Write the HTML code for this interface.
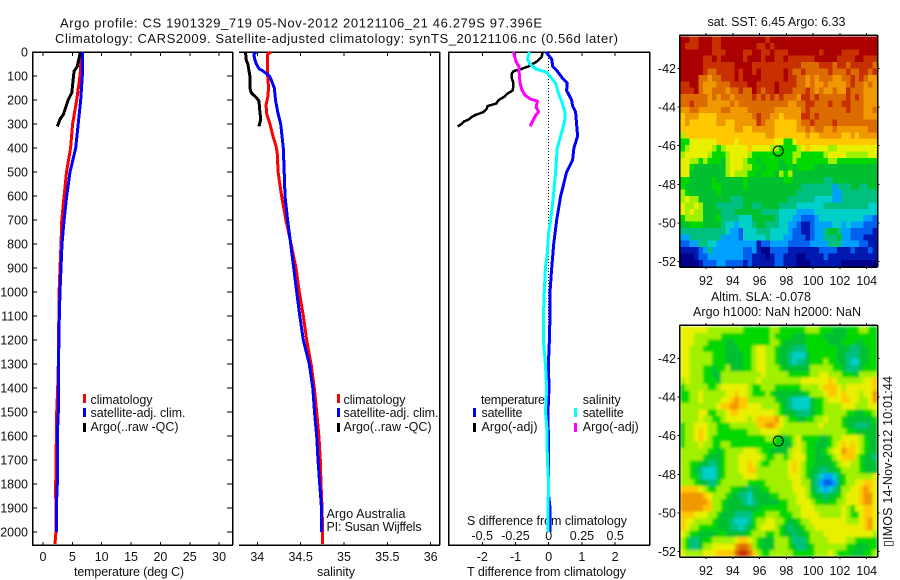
<!DOCTYPE html>
<html lang="en">
<head>
<meta charset="utf-8">
<title>Argo profile</title>
<style>
html,body{margin:0;padding:0;background:#fff;width:900px;height:580px;overflow:hidden}
svg{display:block}
text{font-family:"Liberation Sans",sans-serif;font-size:12.5px;fill:#111}
text.fig-title{font-size:13px}
</style>
</head>
<body>
<svg id="figure" width="900" height="580" viewBox="0 0 900 580" xmlns="http://www.w3.org/2000/svg">
<defs>
<filter id="sla-smooth" filterUnits="userSpaceOnUse" x="680" y="326" width="198" height="231">
<feGaussianBlur stdDeviation="1.3" edgeMode="duplicate"/>
</filter>
</defs>
<rect width="900" height="580" fill="#fff"/>
<text class="fig-title" x="60" y="27.5" textLength="482" lengthAdjust="spacing">Argo profile: CS 1901329_719 05-Nov-2012 20121106_21 46.279S 97.396E</text>
<text class="fig-title" x="55" y="43" textLength="563" lengthAdjust="spacing">Climatology: CARS2009. Satellite-adjusted climatology: synTS_20121106.nc (0.56d later)</text>
<text x="74" y="576" textLength="110" lengthAdjust="spacing">temperature (deg C)</text>
<text x="317" y="576" textLength="38" lengthAdjust="spacing">salinity</text>
<text x="467" y="576" textLength="159" lengthAdjust="spacing">T difference from climatology</text>
<text x="467" y="525" textLength="160" lengthAdjust="spacing">S difference from climatology</text>

<g>
<rect x="83" y="394" width="3" height="9" fill="#f00"/>
<text x="90.5" y="404" textLength="62" lengthAdjust="spacing">climatology</text>
<rect x="83" y="408" width="3" height="9" fill="#00f"/>
<text x="90.5" y="417" textLength="95" lengthAdjust="spacing">satellite-adj. clim.</text>
<rect x="83" y="423" width="3" height="9" fill="#000"/>
<text x="90.5" y="431" textLength="88" lengthAdjust="spacing">Argo(..raw -QC)</text>
</g>
<g>
<rect x="337" y="394" width="3" height="9" fill="#f00"/>
<text x="343.5" y="404" textLength="62" lengthAdjust="spacing">climatology</text>
<rect x="337" y="408" width="3" height="9" fill="#00f"/>
<text x="343.5" y="417" textLength="95" lengthAdjust="spacing">satellite-adj. clim.</text>
<rect x="337" y="423" width="3" height="9" fill="#000"/>
<text x="343.5" y="431" textLength="88" lengthAdjust="spacing">Argo(..raw -QC)</text>
<text x="326.5" y="518" textLength="79" lengthAdjust="spacing">Argo Australia</text>
<text x="326.5" y="531" textLength="95" lengthAdjust="spacing">PI: Susan Wijffels</text>
</g>
<g>
<text x="481" y="404" textLength="64" lengthAdjust="spacing">temperature</text>
<rect x="473" y="408" width="3" height="9" fill="#00f"/>
<text x="481.5" y="417" textLength="41" lengthAdjust="spacing">satellite</text>
<rect x="473" y="423" width="3" height="9" fill="#000"/>
<text x="481.5" y="431" textLength="56" lengthAdjust="spacing">Argo(-adj)</text>
<text x="582.7" y="404" textLength="38" lengthAdjust="spacing">salinity</text>
<rect x="574" y="408" width="3" height="9" fill="#0ff"/>
<text x="582.7" y="417" textLength="41" lengthAdjust="spacing">satellite</text>
<rect x="574" y="423" width="3" height="9" fill="#f0f"/>
<text x="582.7" y="431" textLength="56" lengthAdjust="spacing">Argo(-adj)</text>
</g>

<text x="707.5" y="26" textLength="138" lengthAdjust="spacing">sat. SST: 6.45 Argo: 6.33</text>
<text x="711" y="301" textLength="100" lengthAdjust="spacing">Altim. SLA: -0.078</text>
<text x="693" y="316" textLength="168" lengthAdjust="spacing">Argo h1000: NaN h2000: NaN</text>
<text transform="translate(892,547) rotate(-90)" textLength="171" lengthAdjust="spacing">▯IMOS 14-Nov-2012 10:01:44</text>
</svg>

<script>
// ---- profile data (depth in m, temperature deg C, salinity, differences) ----
const depthTicks = [0,100,200,300,400,500,600,700,800,900,1000,1100,1200,1300,1400,1500,1600,1700,1800,1900,2000];
const tempTicks = [0,5,10,15,20,25,30];
const salTicks = [34,34.5,35,35.5,36];
const tDiffTicks = [-2,-1,0,1,2];
const sDiffTicks = [-0.5,-0.25,0,0.25,0.5];
const sDiffTickLabels = ['-0.5','-0.25','0','0.25','0.5'];

const climDepths = [0,100,200,300,400,500,600,700,800,900,1000,1100,1150,1300,1400,1500,1800,2000,2050];
const climTemp = [6.6,6.3,5.74,5.05,4.7,4.0,3.6,3.2,3.07,2.9,2.75,2.72,2.64,2.6,2.5,2.33,2.16,2.2,2.05];

const satDepths = [0,100,200,300,400,500,600,700,800,900,1000,1100,1200,1300,1400,1500,1600,1800,1900,2000];
const satTemp = [6.7,6.7,6.42,6.0,5.57,4.6,4.03,3.6,3.24,3.07,2.9,2.78,2.72,2.6,2.6,2.6,2.44,2.44,2.27,2.27];

const argoTempDepths = [0,30,60,80,100,150,170,200,230,260,280,300,310];
const argoTemp = [6.36,6.1,5.85,5.3,5.2,5.0,4.9,4.3,3.86,3.47,2.9,2.6,2.44];

const climSalDepths = [0,10,100,150,190,220,260,300,350,390,420,500,600,700,800,900,1000,1100,1200,1300,1400,1500,1600,1700,1800,1900,2000,2050];
const climSal = [34.154,34.12,34.12,34.13,34.12,34.10,34.11,34.146,34.18,34.215,34.23,34.24,34.28,34.33,34.39,34.446,34.484,34.53,34.57,34.62,34.657,34.685,34.71,34.727,34.735,34.746,34.754,34.754];

const satSalDepths = [0,10,30,50,70,80,100,120,150,200,250,300,350,400,500,600,700,800,900,1000,1100,1200,1300,1400,1500,1600,1700,1800,1900,2000];
const satSal = [33.99,33.96,33.97,33.99,34.02,34.07,34.14,34.165,34.196,34.21,34.235,34.27,34.285,34.3,34.31,34.32,34.35,34.385,34.42,34.454,34.49,34.53,34.6,34.64,34.66,34.685,34.70,34.72,34.74,34.74];

const argoSalDepths = [0,30,50,100,150,170,190,205,250,280,310];
const argoSal = [33.865,33.87,33.89,33.915,33.915,33.93,33.99,34.02,34.03,34.04,34.02];

const tDiffDepths = [0,30,60,80,110,130,160,200,225,250,300,350,400,450,500,600,700,800,900,1000,1100,1200,1300,1400,1500,1700,1850,1900,2000];
const tDiffSat = [-0.08,0.09,0.12,0.26,0.42,0.56,0.54,0.69,0.72,0.81,0.84,0.87,0.76,0.72,0.54,0.36,0.24,0.15,0.09,0.04,0.04,0.02,-0.01,0.01,-0.02,0.0,0.0,0.04,0.04];

const sDiffDepths = [0,30,50,70,85,110,130,170,210,250,280,320,360,400,500,600,700,750,850,900,1000,1100,1200,1300,1400,1500,1550,1700,1800,1900,2000];
const sDiffSat = [-0.145,-0.16,-0.14,-0.10,-0.015,0.022,0.052,0.072,0.10,0.122,0.122,0.105,0.085,0.065,0.052,0.035,0.015,0.0,-0.012,-0.025,-0.033,-0.04,-0.04,-0.025,-0.015,-0.025,-0.015,-0.01,0.0,-0.006,-0.006];

const tDiffArgoDepths = [0,20,40,60,70,80,90,110,130,160,175,185,200,215,225,235,250,262,270,282,290,300,310];
const tDiffArgo = [-0.18,-0.21,-0.36,-0.61,-0.81,-1.06,-1.11,-1.11,-1.06,-1.08,-1.26,-1.32,-1.51,-1.58,-1.84,-1.86,-1.96,-2.2,-2.31,-2.42,-2.56,-2.62,-2.74];

const sDiffArgoDepths = [0,20,40,60,100,130,160,180,195,205,230,250,265,310];
const sDiffArgo = [-0.265,-0.255,-0.245,-0.225,-0.22,-0.215,-0.2,-0.178,-0.14,-0.085,-0.095,-0.075,-0.10,-0.14];

// ---- map data: colour level (0 = coldest/lowest, 14 = warmest/highest) per cell, rows north to south ----
const mapLonTicks = [92,94,96,98,100,102,104];
const mapLatTicks = [-42,-44,-46,-48,-50,-52];
const sstLevels = [
[14,14,13,13, 14,14,14,13, 13,14,14,14, 14,14,14,14, 14,14,14,13, 14,14,14,14, 14,14,14,14, 14,14,14,14, 14,14,14,14, 14,14,14,14, 14,14,14,14],
[14,13,13,13, 14,14,14,13, 13,14,14,14, 14,14,14,14, 14,13,13,14, 13,14,14,14, 14,14,14,14, 14,14,14,14, 14,14,14,14, 14,14,14,14, 14,14,14,14],
[14,14,14,14, 14,14,14,13, 13,13,14,14, 14,14,13,13, 14,14,13,13, 14,13,13,13, 14,14,14,14, 14,14,14,13, 14,14,14,14, 13,13,13,13, 14,14,14,14],
[14,14,14,14, 14,13,13,14, 13,14,14,14, 14,14,13,14, 14,14,13,14, 14,13,13,14, 13,13,13,13, 13,13,14,14, 14,14,14,13, 13,13,13,14, 14,13,13,13],
[14,14,14,14, 14,13,13,13, 13,13,13,13, 14,14,14,14, 13,13,13,13, 13,13,13,13, 13,13,13,12, 12,12,12,13, 13,13,12,13, 13,12,13,13, 13,13,13,12],
[14,14,14,14, 14,13,12,12, 13,13,13,13, 14,13,14,14, 13,14,13,13, 13,13,13,14, 13,12,12,13, 12,12,12,12, 12,13,12,12, 12,13,12,12, 13,13,12,13],
[14,14,14,14, 12,12,11,12, 12,13,13,13, 14,13,14,14, 14,14,13,13, 13,13,13,14, 13,13,12,12, 11,12,11,12, 12,12,11,11, 12,12,13,12, 13,12,11,11],
[13,13,14,14, 12,11,11,11, 12,12,12,13, 13,13,13,14, 14,13,13,13, 13,14,13,13, 13,13,12,12, 11,12,11,11, 12,11,11,11, 11,12,13,12, 12,11,12,11],
[13,13,13,14, 12,11,11,12, 12,12,11,12, 12,13,12,12, 14,13,12,13, 13,14,13,13, 13,12,12,12, 13,12,11,12, 11,11,12,11, 11,13,12,12, 12,11,11,11],
[12,12,12,12, 12,12,11,12, 11,12,12,11, 12,12,12,12, 13,12,13,12, 13,12,13,12, 12,12,11,13, 13,12,13,12, 12,12,12,12, 12,13,12,13, 12,11,11,11],
[12,12,13,12, 12,12,11,11, 11,11,11,12, 11,12,12,12, 12,12,12,12, 12,12,12,12, 11,11,12,12, 13,13,12,12, 12,13,12,12, 13,13,12,12, 12,11,11,11],
[11,11,12,12, 11,11,11,11, 11,12,12,11, 11,11,11,12, 12,12,12,12, 12,11,11,11, 11,11,11,12, 13,12,12,12, 12,12,12,12, 12,13,12,12, 12,11,11,12],
[10,11,11,11, 10,10,10,10, 11,11,11,11, 11,11,11,11, 12,13,12,12, 11,11,10,11, 11,11,11,13, 13,12,13,12, 12,12,12,12, 12,12,12,12, 12,11,11,11],
[10,11,10,10, 10,10,10,10, 11,11,10,10, 11,11,11,11, 11,13,12,11, 11,10,10,10, 10,10,11,12, 12,13,12,12, 12,12,13,12, 12,12,12,12, 12,12,12,12],
[10,10,10,10, 10,10,10,10, 10,10,10,10, 11,11,10,10, 11,11,11,11, 11,10,10,10, 10,10,11,11, 12,11,12,12, 11,11,12,11, 11,11,11,11, 11,11,12,12],
[8,10,10,10, 10,10,10,10, 10,10,10,10, 10,10,10,10, 10,10,10,11, 11,10,10,10, 10,10,10,10, 11,10,10,11, 11,11,11,11, 10,10,11,10, 11,11,11,11],
[7,7,9,9, 9,9,9,9, 10,10,10,10, 9,10,10,10, 10,10,10,10, 10,9,9,7, 7,9,10,10, 10,10,10,10, 10,10,10,10, 10,10,10,10, 10,10,10,10],
[7,8,9,9, 9,9,9,8, 7,8,9,9, 9,9,9,10, 9,9,9,9, 8,8,7,7, 7,7,8,9, 10,9,9,9, 9,8,8,9, 9,9,9,9, 9,9,9,9],
[8,9,9,9, 9,9,8,7, 7,7,8,9, 9,9,9,8, 7,7,7,7, 7,7,7,7, 7,8,8,7, 7,7,7,7, 8,9,9,9, 9,8,8,8, 8,8,9,9],
[9,9,8,8, 7,8,7,7, 7,6,8,9, 9,9,8,7, 7,6,7,7, 7,7,6,7, 7,8,7,7, 7,7,7,7, 7,8,8,7, 7,7,7,7, 7,7,7,7],
[9,9,7,6, 6,6,6,6, 6,6,8,9, 9,9,8,8, 7,7,6,7, 7,7,6,6, 7,6,7,7, 7,7,6,6, 6,6,6,6, 6,6,6,6, 6,6,6,6],
[9,9,6,6, 6,6,6,6, 6,6,8,9, 8,8,8,7, 7,6,7,7, 7,6,8,7, 8,6,6,6, 6,6,6,6, 6,6,6,6, 6,6,6,6, 6,6,6,6],
[7,7,6,6, 6,6,6,7, 6,6,6,6, 6,6,7,6, 6,6,6,6, 6,6,6,7, 7,6,6,6, 6,6,6,6, 5,5,6,6, 6,6,6,6, 6,6,6,6],
[7,6,6,6, 6,6,6,7, 7,6,6,6, 6,6,7,6, 6,6,6,6, 6,6,6,6, 6,6,6,5, 5,5,5,5, 5,5,3,5, 5,5,6,6, 5,5,6,6],
[8,7,6,6, 6,6,6,6, 7,6,6,6, 6,6,6,6, 6,6,6,6, 6,6,6,6, 6,6,5,5, 5,5,5,5, 5,5,3,3, 5,5,5,5, 5,5,5,5],
[8,9,8,8, 6,6,6,6, 6,6,6,5, 5,5,6,6, 6,6,6,6, 6,6,6,6, 5,5,5,5, 5,5,4,4, 4,4,3,3, 5,5,5,5, 5,5,5,5],
[9,8,8,9, 8,6,6,6, 5,5,5,5, 5,5,6,6, 5,5,6,6, 6,6,5,5, 5,5,4,4, 4,4,4,4, 5,5,5,5, 5,5,5,5, 5,5,4,4],
[9,8,9,8, 8,6,6,6, 6,5,5,5, 6,6,6,6, 6,6,5,5, 5,5,4,4, 4,4,3,3, 3,3,4,4, 4,4,4,4, 4,4,4,4, 4,4,4,4],
[7,8,8,8, 8,6,6,6, 7,5,5,5, 5,4,4,4, 6,6,6,6, 6,5,4,4, 4,3,3,2, 2,2,3,4, 4,4,4,4, 4,4,4,4, 4,3,3,2],
[6,6,7,7, 7,6,6,6, 6,5,4,4, 3,4,4,4, 5,6,6,5, 5,5,4,4, 3,3,2,1, 1,2,3,3, 3,3,4,4, 3,4,3,3, 3,2,2,2],
[5,5,5,5, 5,5,5,5, 5,5,4,3, 3,2,4,4, 4,5,5,5, 4,4,4,4, 3,2,2,1, 1,2,3,3, 5,6,6,5, 3,3,2,2, 2,2,2,1],
[3,3,5,5, 5,5,5,5, 5,3,3,3, 3,2,4,4, 4,4,4,5, 4,4,4,3, 3,2,2,2, 1,2,3,3, 5,5,5,6, 3,3,2,2, 2,1,1,1],
[2,2,3,3, 5,5,4,4, 3,3,3,3, 3,3,3,3, 3,1,2,2, 3,3,3,3, 2,2,2,2, 2,3,3,3, 3,5,5,5, 3,3,3,3, 2,2,1,1],
[1,1,1,1, 2,3,5,3, 3,3,3,3, 3,3,2,2, 3,1,0,0, 2,2,2,2, 1,1,1,1, 1,1,1,2, 2,2,2,1, 1,1,2,1, 1,1,2,1],
[0,0,0,1, 2,2,3,3, 3,3,3,3, 3,3,2,2, 1,1,1,0, 1,2,2,1, 1,1,0,0, 1,1,1,1, 2,1,1,1, 1,1,1,1, 1,1,1,1],
[0,0,0,0, 1,2,2,2, 3,3,2,2, 2,2,1,2, 1,1,1,1, 1,2,2,1, 1,1,0,0, 0,1,1,1, 1,1,1,1, 0,0,0,0, 0,0,0,0]
];
const slaLevels = [
[9,9,9,9, 9,9,8,8, 8,8,8,8, 8,8,7,7, 7,7,7,7, 8,8,7,7, 7,7,7,7, 8,8,8,7, 7,7,6,6, 6,7,7,7, 8,8,7,7],
[9,9,9,8, 8,8,8,8, 8,7,7,7, 7,7,7,7, 7,7,7,7, 8,7,7,7, 7,6,6,6, 7,7,7,7, 6,6,6,6, 6,7,7,7, 7,7,7,7],
[9,9,9,8, 8,8,7,7, 7,7,6,6, 7,7,7,7, 7,7,7,7, 8,8,7,6, 6,6,6,6, 7,7,7,7, 7,6,6,6, 7,7,7,6, 6,7,7,7],
[9,9,8,8, 8,7,7,7, 7,7,6,6, 6,7,7,7, 8,9,9,8, 8,7,6,6, 6,5,5,5, 7,7,7,7, 7,7,7,6, 6,6,5,5, 6,6,7,7],
[9,9,8,8, 8,8,8,7, 7,7,6,6, 6,6,7,7, 8,9,9,8, 8,7,6,6, 5,4,4,4, 6,7,7,7, 7,7,7,6, 6,5,5,5, 6,6,7,7],
[9,9,8,8, 8,8,8,7, 7,7,6,6, 6,6,7,7, 8,9,9,8, 8,7,6,6, 5,4,5,5, 6,7,7,7, 8,7,7,6, 6,5,4,4, 6,6,7,7],
[9,9,8,8, 8,7,7,6, 7,7,8,6, 6,6,7,7, 8,9,9,8, 8,8,7,6, 6,6,6,6, 6,8,8,8, 8,8,7,7, 6,5,5,5, 6,7,7,7],
[9,9,8,8, 8,7,7,6, 6,8,8,8, 8,8,8,8, 8,8,9,8, 8,8,8,8, 7,7,7,7, 7,8,8,9, 9,8,8,8, 7,7,7,6, 8,8,8,8],
[8,9,8,8, 8,7,7,7, 6,8,8,8, 8,8,8,8, 8,9,8,8, 8,8,8,8, 8,8,8,9, 9,9,9,9, 9,10,9,8, 8,8,8,8, 8,9,9,10],
[7,8,8,8, 8,8,7,7, 8,9,9,9, 9,9,9,8, 7,7,8,8, 8,7,7,7, 7,7,7,8, 8,8,8,9, 10,10,10,9, 8,9,9,9, 9,9,9,10],
[7,7,8,8, 9,8,8,8, 8,8,9,9, 10,9,9,8, 7,7,7,8, 7,6,6,6, 6,6,6,6, 7,8,8,8, 9,10,10,9, 10,9,9,9, 8,9,9,11],
[7,7,8,8, 9,8,8,8, 8,9,9,10, 11,10,10,8, 8,8,8,8, 8,7,6,6, 5,4,4,4, 4,6,7,7, 8,9,9,9, 10,10,9,9, 8,8,9,11],
[8,8,8,8, 8,8,8,8, 9,10,10,11, 11,10,10,9, 9,9,8,8, 8,8,7,6, 5,4,4,4, 4,6,7,7, 8,8,8,8, 9,9,9,8, 8,8,9,9],
[8,8,8,8, 9,9,7,7, 8,8,9,10, 10,9,9,9, 9,9,9,9, 9,8,7,6, 6,6,5,5, 5,6,7,7, 8,8,8,8, 8,7,7,6, 6,7,7,8],
[8,8,8,8, 9,8,8,7, 7,8,9,9, 9,9,9,8, 9,10,10,10, 10,11,9,8, 7,7,6,6, 7,7,8,8, 9,8,8,8, 7,6,6,6, 6,6,6,7],
[7,8,8,9, 9,9,8,8, 7,7,7,8, 8,8,8,8, 8,10,10,11, 11,10,9,8, 8,8,8,8, 8,8,8,9, 8,8,8,8, 7,6,6,5, 5,5,6,6],
[7,8,8,9, 10,9,8,8, 7,7,7,7, 7,7,7,8, 8,8,9,9, 9,9,8,8, 8,8,8,8, 8,8,8,8, 8,8,8,8, 8,7,7,6, 6,6,6,6],
[7,8,8,9, 10,9,8,7, 7,7,7,7, 7,7,7,7, 7,7,7,8, 8,7,6,6, 7,8,9,7, 7,7,7,6, 6,7,8,8, 9,9,9,9, 8,7,6,6],
[7,8,8,8, 9,8,8,7, 7,8,8,7, 7,7,7,7, 7,7,7,7, 7,7,6,6, 6,8,9,8, 7,7,6,6, 6,7,8,9, 10,9,10,9, 8,7,6,6],
[8,8,8,8, 8,8,7,7, 6,7,8,8, 8,8,9,9, 9,8,7,7, 6,6,6,6, 8,9,9,8, 7,7,6,6, 7,8,9,9, 11,10,10,9, 8,7,6,6],
[8,8,8,8, 8,7,6,6, 6,7,8,8, 8,9,9,9, 9,9,8,7, 7,8,8,7, 8,9,9,9, 7,7,6,6, 6,7,8,9, 10,10,10,8, 7,6,6,5],
[8,8,7,7, 6,6,5,5, 6,7,8,8, 8,9,9,10, 9,8,7,7, 8,8,8,8, 9,10,9,8, 7,7,6,6, 6,6,7,8, 9,9,8,8, 7,6,6,6],
[8,8,7,6, 5,4,4,4, 6,7,8,8, 8,9,9,10, 10,8,8,8, 8,8,8,8, 9,10,9,8, 7,6,6,5, 5,6,6,7, 8,8,8,8, 7,6,6,6],
[8,8,7,7, 5,4,4,4, 6,7,8,8, 8,8,9,9, 9,8,8,8, 8,8,8,8, 9,9,9,8, 7,6,5,4, 3,3,4,6, 7,8,8,8, 8,8,8,9],
[8,8,8,7, 6,6,5,5, 7,8,8,8, 8,8,8,7, 7,7,7,8, 8,8,8,8, 8,9,9,8, 8,6,5,3, 2,2,3,6, 7,8,8,9, 9,10,10,9],
[10,10,10,10, 9,8,7,7, 8,8,8,7, 7,6,6,5, 6,6,7,7, 8,8,8,8, 8,9,9,9, 8,6,5,4, 3,4,5,6, 8,8,9,9, 10,11,10,9],
[11,11,11,11, 11,10,9,8, 8,8,7,6, 6,5,5,4, 6,6,6,6, 7,7,8,8, 8,8,9,9, 8,7,6,6, 5,6,6,7, 8,9,9,9, 10,11,11,9],
[11,11,11,11, 11,11,10,8, 8,7,6,6, 6,6,5,4, 5,6,6,6, 6,6,7,7, 8,8,9,9, 9,8,7,7, 6,7,7,8, 8,9,9,9, 10,11,11,9],
[11,11,11,11, 11,10,10,8, 8,7,6,6, 6,6,6,6, 6,6,7,7, 7,7,7,7, 8,8,8,9, 9,9,8,8, 8,8,8,8, 9,8,7,9, 9,10,10,9],
[10,10,10,9, 9,9,8,8, 7,6,6,6, 5,5,5,5, 7,7,7,8, 8,8,7,7, 7,8,8,9, 9,9,9,8, 8,8,8,8, 9,8,7,7, 9,10,10,9],
[10,9,9,8, 8,8,8,7, 6,6,6,5, 4,4,4,5, 7,8,8,9, 9,8,8,7, 6,6,7,8, 8,9,9,9, 9,9,9,9, 9,8,8,8, 9,10,11,9],
[10,9,8,8, 7,7,7,7, 6,6,6,5, 5,4,5,6, 7,8,9,9, 9,8,7,6, 5,6,6,7, 8,8,9,9, 9,9,9,9, 9,9,9,9, 9,10,11,9],
[9,8,7,7, 6,6,6,6, 7,7,6,6, 6,6,6,7, 8,8,8,7, 7,8,7,6, 6,5,6,6, 7,8,8,8, 9,9,9,9, 9,9,9,9, 9,9,9,8],
[8,7,5,5, 6,7,7,8, 8,8,8,8, 9,10,10,9, 8,7,6,6, 6,8,8,8, 7,5,5,5, 7,8,8,8, 8,9,9,9, 9,8,8,7, 7,7,7,7],
[8,7,5,5, 6,8,8,9, 9,9,9,9, 11,12,12,11, 8,7,6,6, 6,8,8,8, 7,6,5,5, 6,7,8,8, 8,8,8,8, 8,7,7,6, 6,6,7,7],
[9,8,8,8, 8,9,9,9, 10,10,10,10, 12,13,13,12, 10,8,7,7, 8,8,8,8, 8,7,7,7, 7,7,8,8, 8,9,8,7, 7,7,6,6, 6,7,7,8]
];
const levelColors = ['#000088','#0018b0','#0060f0','#00a0ff','#00d0c8','#00c080','#00c030','#00d800','#a0f000','#e8f000','#ffc800','#f09800','#dc6c00','#c83000','#aa0000'];

// ---- helpers and axis functions ----
const svgNS = 'http://www.w3.org/2000/svg';
const fig = document.getElementById('figure');
function depthY(d){ return 52 + d*0.24; }
function tempX(t){ return 43 + t*5.87; }
function salX(s){ return 257.3 + (s-34)*86.7; }
function tDiffX(t){ return 548.7 + t*33.2; }
function sDiffX(s){ return 548.7 + s*133; }
function lonX(lon){ return 706 + (lon-92)*13.39; }
function latY(lat){ return 68.3 + (-42-lat)*19.33; }

function makeGroup(parent, name){
  const g = document.createElementNS(svgNS,'g');
  
  
  parent.appendChild(g);
  return g;
}
function drawLine(parent, name, x1, y1, x2, y2, width, dash){
  const l = document.createElementNS(svgNS,'line');
  
  
  l.setAttribute('x1', x1);
  l.setAttribute('y1', y1);
  l.setAttribute('x2', x2);
  l.setAttribute('y2', y2);
  l.setAttribute('stroke', '#000');
  l.setAttribute('stroke-width', width || 1);
  l.setAttribute('shape-rendering', 'crispEdges');
  if (dash) l.setAttribute('stroke-dasharray', dash);
  parent.appendChild(l);
  return l;
}
function drawText(parent, name, x, y, str, anchor){
  const t = document.createElementNS(svgNS,'text');
  
  
  t.setAttribute('x', x);
  t.setAttribute('y', y);
  t.setAttribute('text-anchor', anchor || 'middle');
  t.textContent = str;
  parent.appendChild(t);
  return t;
}
function drawProfile(parent, name, depths, values, xFn, color, width){
  const p = document.createElementNS(svgNS,'polyline');
  
  
  p.setAttribute('points', depths.map(function(d,i){ return xFn(values[i]).toFixed(1)+','+depthY(d).toFixed(1); }).join(' '));
  p.setAttribute('fill', 'none');
  p.setAttribute('stroke', color);
  p.setAttribute('stroke-width', width);
  p.setAttribute('stroke-linejoin', 'round');
  p.setAttribute('shape-rendering', 'crispEdges');
  parent.appendChild(p);
  return p;
}

// ---- profile panels ----
const panelTop = 52, panelBottom = 545;
function drawXTicks(g, ticks, xFn, labels, labelY, prefix){
  ticks.forEach(function(v,i){
    drawLine(g, prefix+'-top-tick', xFn(v), panelTop, xFn(v), panelTop+4, 1);
    drawLine(g, prefix+'-bottom-tick', xFn(v), panelBottom, xFn(v), panelBottom-3, 1);
    drawText(g, prefix+'-tick-label', xFn(v), labelY, labels[i]);
  });
}
const tempPanel = makeGroup(fig, 'temperature-panel');
drawLine(tempPanel, 'temperature-panel-left-edge', 32.5, panelTop, 32.5, panelBottom, 1.5);
drawLine(tempPanel, 'temperature-panel-right-edge', 232.5, panelTop, 232.5, panelBottom, 1.5);
drawLine(tempPanel, 'temperature-panel-top-edge', 32, panelTop, 233, panelTop, 1.5);
drawLine(tempPanel, 'temperature-panel-bottom-edge', 32, panelBottom, 233, panelBottom, 1.5);
depthTicks.forEach(function(d){
  drawLine(tempPanel, 'depth-left-tick', 32, depthY(d), 37, depthY(d), 1);
  drawLine(tempPanel, 'depth-right-tick', 232, depthY(d), 227, depthY(d), 1);
  drawText(tempPanel, 'depth-tick-label', 28, depthY(d)+4.5, String(d), 'end');
});
drawXTicks(tempPanel, tempTicks, tempX, tempTicks.map(String), 561, 'temperature');
drawProfile(tempPanel, 'temperature-climatology-line', climDepths, climTemp, tempX, '#f00', 3);
drawProfile(tempPanel, 'temperature-argo-line', argoTempDepths, argoTemp, tempX, '#000', 3);
drawProfile(tempPanel, 'temperature-satellite-line', satDepths, satTemp, tempX, '#00f', 3);

const salPanel = makeGroup(fig, 'salinity-panel');
drawLine(salPanel, 'salinity-panel-top-edge', 239, panelTop, 440, panelTop, 1.5);
drawLine(salPanel, 'salinity-panel-bottom-edge', 239, panelBottom, 440, panelBottom, 1.5);
drawLine(salPanel, 'salinity-panel-right-edge', 439.5, panelTop, 439.5, panelBottom, 1.5);
drawXTicks(salPanel, salTicks, salX, salTicks.map(String), 561, 'salinity');
drawProfile(salPanel, 'salinity-climatology-line', climSalDepths, climSal, salX, '#f00', 3);
drawProfile(salPanel, 'salinity-argo-line', argoSalDepths, argoSal, salX, '#000', 3);
drawProfile(salPanel, 'salinity-satellite-line', satSalDepths, satSal, salX, '#00f', 3);

const diffPanel = makeGroup(fig, 'difference-panel');
drawLine(diffPanel, 'difference-panel-left-edge', 448.5, panelTop, 448.5, panelBottom, 1.5);
drawLine(diffPanel, 'difference-panel-right-edge', 649.5, panelTop, 649.5, panelBottom, 1.5);
drawLine(diffPanel, 'difference-panel-top-edge', 448, panelTop, 650, panelTop, 1.5);
drawLine(diffPanel, 'difference-panel-bottom-edge', 448, panelBottom, 650, panelBottom, 1.5);
drawLine(diffPanel, 'zero-difference-line', tDiffX(0), panelTop, tDiffX(0), 532, 1, '1 2');
drawXTicks(diffPanel, tDiffTicks, tDiffX, tDiffTicks.map(String), 561, 't-difference');
sDiffTicks.forEach(function(v,i){
  drawText(diffPanel, 's-difference-tick-label', sDiffX(v), 540, sDiffTickLabels[i]);
});
drawProfile(diffPanel, 't-difference-satellite-line', tDiffDepths, tDiffSat, tDiffX, '#00f', 3);
drawProfile(diffPanel, 't-difference-argo-line', tDiffArgoDepths, tDiffArgo, tDiffX, '#000', 2.5);
drawProfile(diffPanel, 's-difference-satellite-line', sDiffDepths, sDiffSat, sDiffX, '#0ff', 3);
drawProfile(diffPanel, 's-difference-argo-line', sDiffArgoDepths, sDiffArgo, sDiffX, '#f0f', 3);

// ---- maps ----
const mapLeft = 679.5, mapRight = 877.5, mapHeight = 232;
const mapFirstLon = 90.11, mapFirstLat = -40.36, cellDeg = 1/3, rowDeg = 0.33;
function drawMap(name, levels, offsetY, frameTop, smooth){
  const g = makeGroup(fig, name);
  const cells = makeGroup(g, name + '-cells');
  if (smooth) cells.setAttribute('filter', 'url(#sla-smooth)');
  levels.forEach(function(row, r){
    row.forEach(function(level, c){
      const x0 = lonX(mapFirstLon + c*cellDeg);
      const y0 = latY(mapFirstLat - r*rowDeg) + offsetY;
      const cell = document.createElementNS(svgNS,'rect');
      
      
      cell.setAttribute('x', x0.toFixed(2));
      cell.setAttribute('y', y0.toFixed(2));
      cell.setAttribute('width', (cellDeg*13.39+0.5).toFixed(2));
      cell.setAttribute('height', (rowDeg*19.33+0.5).toFixed(2));
      cell.setAttribute('fill', levelColors[level]);
      cell.setAttribute('shape-rendering', 'crispEdges');
      cells.appendChild(cell);
    });
  });
  const top = frameTop, bottom = frameTop + mapHeight;
  drawLine(g, 'map-left-edge', mapLeft, top, mapLeft, bottom, 1.5);
  drawLine(g, 'map-right-edge', mapRight, top, mapRight, bottom, 1.5);
  drawLine(g, 'map-top-edge', mapLeft, top, mapRight, top, 1.5);
  drawLine(g, 'map-bottom-edge', mapLeft, bottom, mapRight, bottom, 1.5);
  mapLonTicks.forEach(function(lon){
    drawLine(g, 'map-lon-top-tick', lonX(lon), top, lonX(lon), top-2, 1);
    drawLine(g, 'map-lon-bottom-tick', lonX(lon), bottom, lonX(lon), bottom+2, 1);
    drawText(g, 'map-lon-tick-label', lonX(lon), bottom+18, String(lon));
  });
  mapLatTicks.forEach(function(lat){
    drawLine(g, 'map-lat-left-tick', mapLeft, latY(lat)+offsetY, mapLeft-2, latY(lat)+offsetY, 1);
    drawLine(g, 'map-lat-right-tick', mapRight, latY(lat)+offsetY, mapRight+2, latY(lat)+offsetY, 1);
    drawText(g, 'map-lat-tick-label', 676, latY(lat)+offsetY+4.5, String(lat), 'end');
  });
  const dot = document.createElementNS(svgNS,'circle');
  
  
  dot.setAttribute('cx', lonX(97.396));
  dot.setAttribute('cy', latY(-46.279)+offsetY);
  dot.setAttribute('r', 5);
  dot.setAttribute('fill', 'none');
  dot.setAttribute('stroke', '#000');
  dot.setAttribute('stroke-width', 1);
  g.appendChild(dot);
}
drawMap('sst-map', sstLevels, 0, 35, false);
drawMap('sla-map', slaLevels, 290, 325, true);
</script>
</body>
</html>
